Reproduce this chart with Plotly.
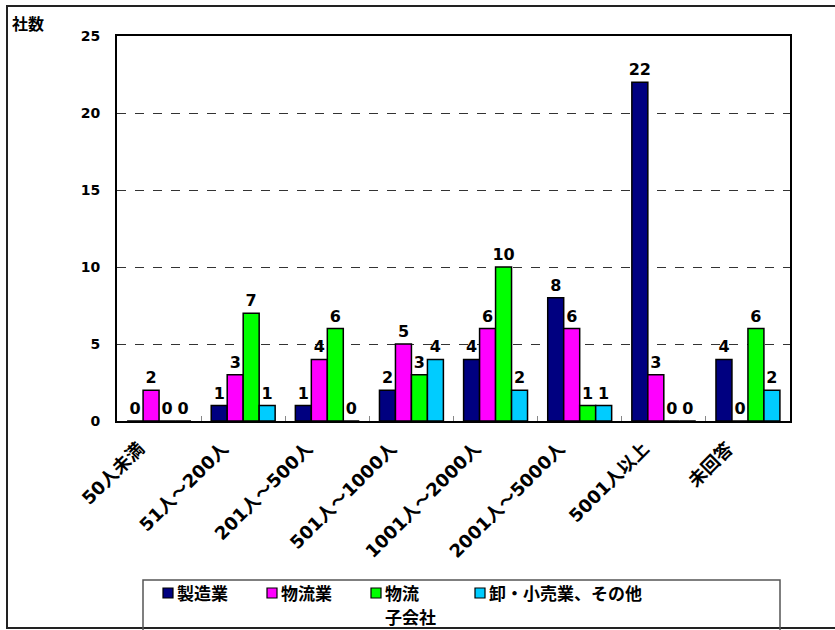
import plotly.graph_objects as go

# Company-size categories and counts per industry group
categories = ["50人未満", "51人～200人", "201人～500人", "501人～1000人",
              "1001人～2000人", "2001人～5000人", "5001人以上", "未回答"]
series_names = ["製造業", "物流業", "物流<br>子会社", "卸・小売業、その他"]
manufacturing = [0, 1, 1, 2, 4, 8, 22, 4]
logistics = [2, 3, 4, 5, 6, 6, 3, 0]
logistics_sub = [0, 7, 6, 3, 10, 1, 0, 6]
wholesale_retail = [0, 1, 0, 4, 2, 1, 0, 2]
series_values = [manufacturing, logistics, logistics_sub, wholesale_retail]
colors = ["#000080", "#FF00FF", "#00FF00", "#00CCFF"]
y_ticks = [0, 5, 10, 15, 20, 25]

FONT = "DejaVu Sans, Noto Sans CJK JP, sans-serif"
JP_FONT = "Noto Sans CJK JP, DejaVu Sans, sans-serif"

fig = go.Figure()
for name, vals, col in zip(series_names, series_values, colors):
    fig.add_trace(go.Bar(
        x=categories, y=vals, name=name,
        marker=dict(color=col, line=dict(color="black", width=1.5)),
        text=[str(v) for v in vals], textposition="outside",
        textfont=dict(family=FONT, size=16, color="black", weight="bold"),
        constraintext="none", cliponaxis=False, showlegend=False,
    ))

W, H = 835, 630
L, R, T, B = 117, 45, 36, 209
pw, ph = W - L - R, H - T - B


def px(x):
    return (x - L) / pw


def py(y):
    return (H - B - y) / ph


shapes = [
    # outer frame
    dict(type="rect", xref="paper", yref="paper",
         x0=px(7), x1=px(840), y0=py(628), y1=py(6),
         line=dict(color="#222", width=2), layer="below"),
    # legend box
    dict(type="rect", xref="paper", yref="paper",
         x0=px(143), x1=px(780), y0=py(645), y1=py(580),
         line=dict(color="#555", width=1.5), layer="below"),
]
annotations = [
    dict(text="社数", xref="paper", yref="paper", x=px(10), y=py(9),
         xanchor="left", yanchor="top", showarrow=False,
         font=dict(family=JP_FONT, size=16, color="black", weight="bold")),
]

# legend: colour key squares followed by the series names (one text per line)
legend_x = [163, 267, 371, 475]
for lx, name, col in zip(legend_x, series_names, colors):
    shapes.append(dict(type="rect", xref="paper", yref="paper",
                       x0=px(lx), x1=px(lx + 10), y0=py(598), y1=py(588),
                       fillcolor=col, line=dict(color="black", width=1.2)))
    for k, line in enumerate(name.split("<br>")):
        annotations.append(dict(text=line, xref="paper", yref="paper",
                                x=px(lx + 13), y=py(592 + 24 * k),
                                xanchor="left", yanchor="middle",
                                showarrow=False, borderpad=0,
                                font=dict(family=JP_FONT, size=17,
                                          color="black", weight="bold")))

fig.update_layout(
    width=W, height=H,
    margin=dict(l=L, r=R, t=T, b=B, autoexpand=False),
    paper_bgcolor="white", plot_bgcolor="white",
    barmode="group", bargap=0.24, bargroupgap=0,
    font=dict(family=FONT, color="black", weight="bold"),
    showlegend=False,
    xaxis=dict(
        type="category", tickangle=-45, automargin=False,
        tickfont=dict(family=FONT, size=18, color="black", weight="bold"),
        showline=True, linecolor="black", linewidth=2, mirror=True,
        ticks="inside", tickson="boundaries", ticklen=5, tickcolor="#888",
        showgrid=False, ticklabelstandoff=8, ticklabelshift=-20,
    ),
    yaxis=dict(
        range=[0, 25], tickvals=y_ticks, automargin=False,
        tickfont=dict(family=FONT, size=14, color="black", weight="bold"),
        showline=True, linecolor="black", linewidth=2, mirror=True,
        showgrid=True, gridcolor="#333", griddash="dash", gridwidth=1,
        ticks="", ticklabelstandoff=12, zeroline=False,
    ),
    shapes=shapes,
    annotations=annotations,
)

fig.write_html("out.html")
